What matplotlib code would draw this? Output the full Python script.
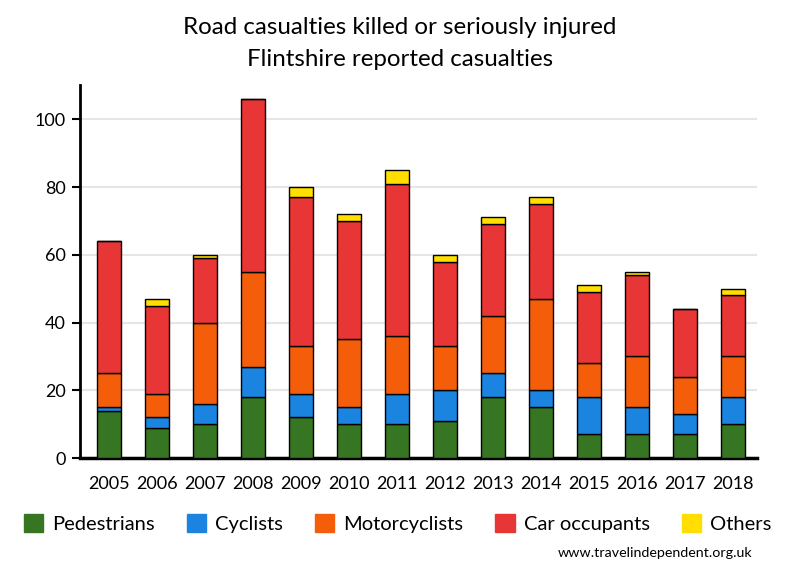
#!/usr/bin/env python3
"""Flintshire road casualties killed or seriously injured, stacked by road user."""

import matplotlib
matplotlib.use("Agg")
import matplotlib.pyplot as plt
import numpy as np

years = ["2005", "2006", "2007", "2008", "2009", "2010", "2011",
         "2012", "2013", "2014", "2015", "2016", "2017", "2018"]
pedestrians = [14, 9, 10, 18, 12, 10, 10, 11, 18, 15, 7, 7, 7, 10]
cyclists = [1, 3, 6, 9, 7, 5, 9, 9, 7, 5, 11, 8, 6, 8]
motorcyclists = [10, 7, 24, 28, 14, 20, 17, 13, 17, 27, 10, 15, 11, 12]
car_occupants = [39, 26, 19, 51, 44, 35, 45, 25, 27, 28, 21, 24, 20, 18]
others = [0, 2, 1, 0, 3, 2, 4, 2, 2, 2, 2, 1, 0, 2]

series_names = ["Pedestrians", "Cyclists", "Motorcyclists", "Car occupants", "Others"]
colors = ["#367522", "#1b84e0", "#f45e0b", "#e83535", "#ffde00"]

plt.rcParams["font.family"] = ["Lato", "DejaVu Sans"]

fig = plt.figure(figsize=(8, 5.8), dpi=100)
ax = fig.add_axes([0.1, 0.2103, 0.846, 0.6425])

x = np.arange(len(years))
bottom = np.zeros(len(years))
for name, values, color in zip(series_names,
                               [pedestrians, cyclists, motorcyclists, car_occupants, others],
                               colors):
    vals = np.array(values, dtype=float)
    ax.bar(x, vals, width=0.5, bottom=bottom, color=color, edgecolor="black",
           linewidth=1.0, label=name, zorder=3)
    bottom += vals

ax.set_xlim(-0.61, 13.49)
ax.set_ylim(0, 110)
ax.set_yticks([0, 20, 40, 60, 80, 100])
ax.set_xticks(x)
ax.set_xticklabels(years)
ax.tick_params(axis="y", length=6, width=1.5, labelsize=13, pad=4)
ax.tick_params(axis="x", length=0, labelsize=13, pad=13)
ax.yaxis.grid(True, color="#e6e6e6", linewidth=1.5, zorder=0)
ax.set_axisbelow(True)
for side in ["top", "right"]:
    ax.spines[side].set_visible(False)
ax.spines["left"].set_linewidth(2)
ax.spines["bottom"].set_linewidth(2.5)

fig.text(0.5, 1 - 28 / 580, "Road casualties killed or seriously injured",
         ha="center", va="center", fontsize=17.4)
fig.text(0.5, 1 - 60 / 580, "Flintshire reported casualties",
         ha="center", va="center", fontsize=17.4)

leg = fig.legend(loc="center", bbox_to_anchor=(0.497, 0.097), ncol=5, frameon=False,
                 fontsize=14.5, handlelength=0.95, handleheight=0.95, handletextpad=0.45,
                 columnspacing=1.6)
# legend swatches have no outline in the original
for handle in leg.legend_handles:
    handle.set_edgecolor(handle.get_facecolor())

fig.text(0.94, 0.046, "www.travelindependent.org.uk", ha="right", va="center",
         fontsize=10.3)

fig.savefig("out.png", dpi=100)
